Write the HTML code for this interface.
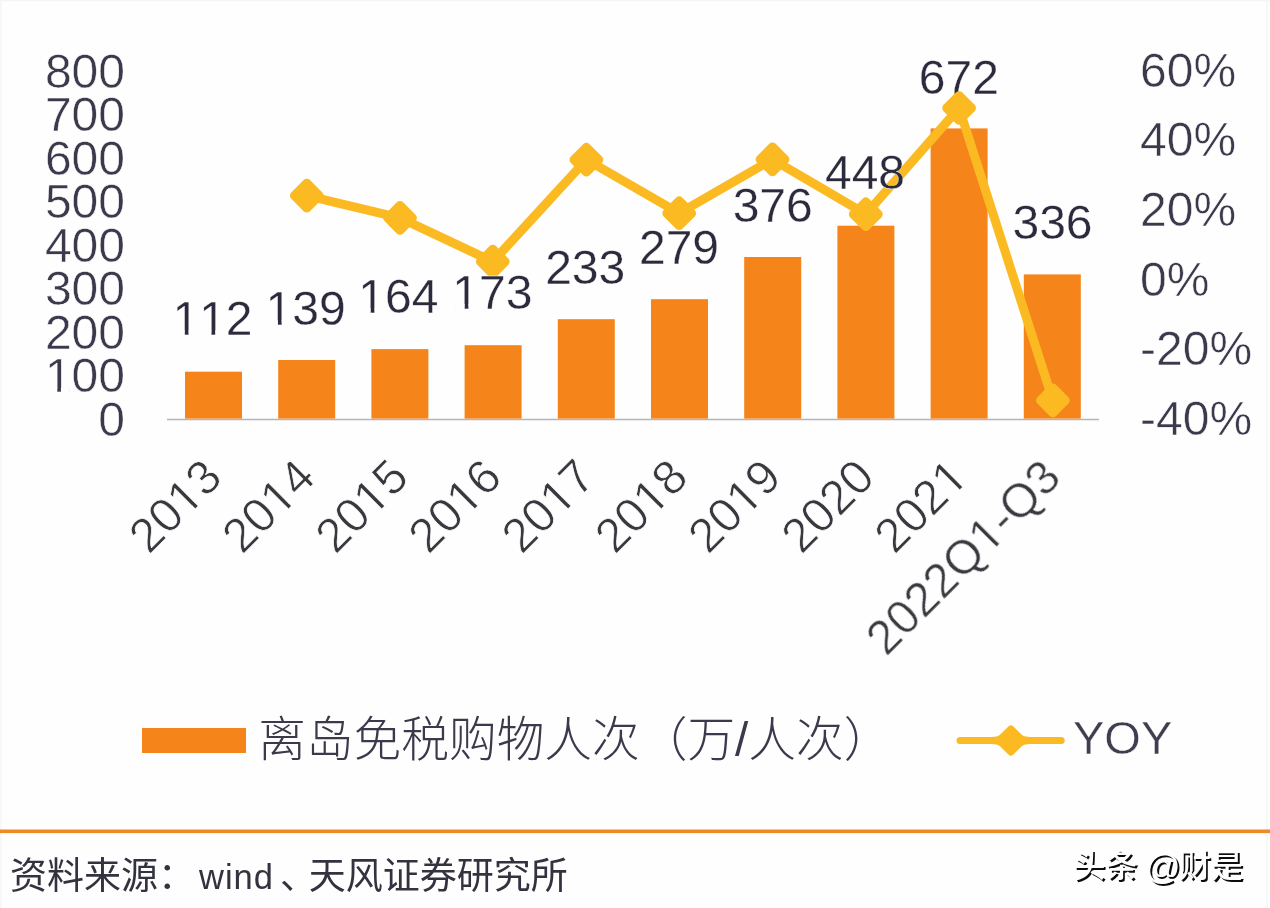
<!DOCTYPE html>
<html lang="zh-CN"><head><meta charset="utf-8"><title>离岛免税购物人次</title>
<style>
html,body{margin:0;padding:0;background:#fefefe;}
body{width:1270px;height:908px;overflow:hidden;position:relative;font-family:"Liberation Sans","Noto Sans CJK SC",sans-serif;}
svg{position:absolute;left:0;top:0;display:block}
.ax,.xl,.dl,.yy{stroke:#fefefe;stroke-width:0.5px;stroke-linejoin:round;font-kerning:none}
.xl{stroke-width:0.7px}
.dl{stroke-width:0.3px}
.yy{stroke-width:0.4px}
.ax{font-family:"Liberation Sans",sans-serif;font-size:48px;fill:#3a3a4c;}
.xl{font-family:"Liberation Sans",sans-serif;font-size:48px;fill:#38383f;}
.dl{font-family:"Liberation Sans",sans-serif;font-size:48px;fill:#2b2b3d;}
.lg{font-family:"Liberation Sans","Noto Sans CJK SC",sans-serif;font-size:47.7px;font-weight:300;fill:#3a3a4c;}
.yy{font-family:"Liberation Sans",sans-serif;font-size:47px;fill:#3e3e50;}
.src{font-family:"Liberation Sans","Noto Sans CJK SC",sans-serif;font-size:37px;font-weight:400;fill:#33333f;}
.wm{font-family:"Liberation Sans","Noto Sans CJK SC",sans-serif;font-size:32.2px;font-weight:500;fill:#fefefe;}
.wms{font-family:"Liberation Sans","Noto Sans CJK SC",sans-serif;font-size:32.2px;font-weight:500;fill:#0c0c0c;}
</style></head><body>
<svg width="1270" height="908" viewBox="0 0 1270 908">
<defs><clipPath id="k1" clipPathUnits="userSpaceOnUse"><path clip-rule="evenodd" d="M-3000,-3000H5000V5000H-3000ZM47.79,387.51H57.29V394.40H47.79ZM60.92,387.51H69.87V394.40H60.92Z"/></clipPath><clipPath id="k2" clipPathUnits="userSpaceOnUse"><path clip-rule="evenodd" d="M-3000,-3000H5000V5000H-3000ZM175.34,330.31H184.83V337.20H175.34ZM188.47,330.31H197.42V337.20H188.47ZM202.03,330.31H211.52V337.20H202.03ZM215.16,330.31H224.11V337.20H215.16Z"/></clipPath><clipPath id="k3" clipPathUnits="userSpaceOnUse"><path clip-rule="evenodd" d="M-3000,-3000H5000V5000H-3000ZM268.44,320.31H277.93V327.20H268.44ZM281.57,320.31H290.52V327.20H281.57Z"/></clipPath><clipPath id="k4" clipPathUnits="userSpaceOnUse"><path clip-rule="evenodd" d="M-3000,-3000H5000V5000H-3000ZM361.24,308.31H370.73V315.20H361.24ZM374.37,308.31H383.32V315.20H374.37Z"/></clipPath><clipPath id="k5" clipPathUnits="userSpaceOnUse"><path clip-rule="evenodd" d="M-3000,-3000H5000V5000H-3000ZM455.24,304.11H464.73V311.00H455.24ZM468.37,304.11H477.32V311.00H468.37Z"/></clipPath><clipPath id="k6" clipPathUnits="userSpaceOnUse"><path clip-rule="evenodd" d="M-3000,-3000H5000V5000H-3000ZM173.99,474.81H183.58V481.70H173.99ZM187.02,474.81H196.07V481.70H187.02Z"/></clipPath><clipPath id="k7" clipPathUnits="userSpaceOnUse"><path clip-rule="evenodd" d="M-3000,-3000H5000V5000H-3000ZM267.19,474.81H276.78V481.70H267.19ZM280.22,474.81H289.27V481.70H280.22Z"/></clipPath><clipPath id="k8" clipPathUnits="userSpaceOnUse"><path clip-rule="evenodd" d="M-3000,-3000H5000V5000H-3000ZM360.39,474.81H369.98V481.70H360.39ZM373.42,474.81H382.47V481.70H373.42Z"/></clipPath><clipPath id="k9" clipPathUnits="userSpaceOnUse"><path clip-rule="evenodd" d="M-3000,-3000H5000V5000H-3000ZM453.59,474.81H463.18V481.70H453.59ZM466.62,474.81H475.67V481.70H466.62Z"/></clipPath><clipPath id="k10" clipPathUnits="userSpaceOnUse"><path clip-rule="evenodd" d="M-3000,-3000H5000V5000H-3000ZM546.79,474.81H556.38V481.70H546.79ZM559.82,474.81H568.87V481.70H559.82Z"/></clipPath><clipPath id="k11" clipPathUnits="userSpaceOnUse"><path clip-rule="evenodd" d="M-3000,-3000H5000V5000H-3000ZM639.99,474.81H649.58V481.70H639.99ZM653.02,474.81H662.07V481.70H653.02Z"/></clipPath><clipPath id="k12" clipPathUnits="userSpaceOnUse"><path clip-rule="evenodd" d="M-3000,-3000H5000V5000H-3000ZM733.19,474.81H742.78V481.70H733.19ZM746.22,474.81H755.27V481.70H746.22Z"/></clipPath><clipPath id="k13" clipPathUnits="userSpaceOnUse"><path clip-rule="evenodd" d="M-3000,-3000H5000V5000H-3000ZM946.28,474.81H955.88V481.70H946.28ZM959.32,474.81H968.36V481.70H959.32Z"/></clipPath><clipPath id="k14" clipPathUnits="userSpaceOnUse"><path clip-rule="evenodd" d="M-3000,-3000H5000V5000H-3000ZM959.47,474.81H969.06V481.70H959.47ZM972.50,474.81H981.55V481.70H972.50Z"/></clipPath></defs>
<rect x="0" y="0" width="1270" height="908" fill="#fefefe"/>
<rect x="0" y="0" width="1270" height="1.5" fill="#f5f5f7"/><rect x="0" y="0" width="1.5" height="908" fill="#f6f6f8"/><rect x="1266.5" y="0" width="1.5" height="908" fill="#f5f6f5"/>
<g style="filter:blur(0.4px)">

<text class="ax" x="98.30" y="435.90">0</text>
<text class="ax" x="44.91" y="392.40" clip-path="url(#k1)">100</text>
<text class="ax" x="44.91" y="348.90">200</text>
<text class="ax" x="44.91" y="305.40">300</text>
<text class="ax" x="44.91" y="261.90">400</text>
<text class="ax" x="44.91" y="218.40">500</text>
<text class="ax" x="44.91" y="174.90">600</text>
<text class="ax" x="44.91" y="131.40">700</text>
<text class="ax" x="44.91" y="87.90">800</text>
<text class="ax" x="1140.00" y="86.80">60%</text>
<text class="ax" x="1140.00" y="156.40">40%</text>
<text class="ax" x="1140.00" y="226.00">20%</text>
<text class="ax" x="1140.00" y="295.60">0%</text>
<text class="ax" x="1140.00" y="365.20">-20%</text>
<text class="ax" x="1140.00" y="434.80">-40%</text>
<line x1="167" y1="419.4" x2="1099" y2="419.4" stroke="#b4b4bb" stroke-width="1.5"/>
<rect x="185.0" y="371.7" width="57.0" height="46.9" fill="#f5841a"/>
<rect x="278.2" y="360.0" width="57.0" height="58.6" fill="#f5841a"/>
<rect x="371.4" y="349.1" width="57.0" height="69.5" fill="#f5841a"/>
<rect x="464.6" y="345.2" width="57.0" height="73.4" fill="#f5841a"/>
<rect x="557.8" y="319.2" width="57.0" height="99.4" fill="#f5841a"/>
<rect x="651.0" y="299.2" width="57.0" height="119.4" fill="#f5841a"/>
<rect x="744.2" y="257.0" width="57.0" height="161.6" fill="#f5841a"/>
<rect x="837.4" y="225.7" width="57.0" height="192.9" fill="#f5841a"/>
<rect x="930.6" y="128.4" width="57.0" height="290.2" fill="#f5841a"/>
<rect x="1023.8" y="274.4" width="57.0" height="144.2" fill="#f5841a"/>
<text class="dl" x="918.86" y="94.20">672</text>
<polyline fill="none" stroke="#fbba22" stroke-width="9" stroke-linejoin="round" stroke-linecap="round" points="306.8,195.6 400.0,217.9 492.8,261.6 586.4,159.7 679.2,213.2 772.5,159.4 865.8,214.2 959.1,108.0 1052.9,400.4"/>
<rect x="293.55" y="182.35" width="26.5" height="26.5" rx="4.5" ry="4.5" fill="#fbba22" transform="rotate(45 306.8 195.6)"/>
<rect x="386.75" y="204.65" width="26.5" height="26.5" rx="4.5" ry="4.5" fill="#fbba22" transform="rotate(45 400.0 217.9)"/>
<rect x="479.55" y="248.35" width="26.5" height="26.5" rx="4.5" ry="4.5" fill="#fbba22" transform="rotate(45 492.8 261.6)"/>
<rect x="573.15" y="146.45" width="26.5" height="26.5" rx="4.5" ry="4.5" fill="#fbba22" transform="rotate(45 586.4 159.7)"/>
<rect x="665.95" y="199.95" width="26.5" height="26.5" rx="4.5" ry="4.5" fill="#fbba22" transform="rotate(45 679.2 213.2)"/>
<rect x="759.25" y="146.15" width="26.5" height="26.5" rx="4.5" ry="4.5" fill="#fbba22" transform="rotate(45 772.5 159.4)"/>
<rect x="852.55" y="200.95" width="26.5" height="26.5" rx="4.5" ry="4.5" fill="#fbba22" transform="rotate(45 865.8 214.2)"/>
<rect x="945.85" y="94.75" width="26.5" height="26.5" rx="4.5" ry="4.5" fill="#fbba22" transform="rotate(45 959.1 108.0)"/>
<rect x="1039.65" y="387.15" width="26.5" height="26.5" rx="4.5" ry="4.5" fill="#fbba22" transform="rotate(45 1052.9 400.4)"/>
<text class="dl" x="172.46" y="335.20" clip-path="url(#k2)">112</text>
<text class="dl" x="265.56" y="325.20" clip-path="url(#k3)">139</text>
<text class="dl" x="358.36" y="313.20" clip-path="url(#k4)">164</text>
<text class="dl" x="452.36" y="309.00" clip-path="url(#k5)">173</text>
<text class="dl" x="545.16" y="284.20">233</text>
<text class="dl" x="638.96" y="264.00">279</text>
<text class="dl" x="732.66" y="221.50">376</text>
<text class="dl" x="824.96" y="189.20">448</text>
<text class="dl" x="1012.46" y="239.20">336</text>
<text class="xl" x="117.72" y="479.70" clip-path="url(#k6)" transform="rotate(-45 224.5 479.7)">2013</text>
<text class="xl" x="210.92" y="479.70" clip-path="url(#k7)" transform="rotate(-45 317.7 479.7)">2014</text>
<text class="xl" x="304.12" y="479.70" clip-path="url(#k8)" transform="rotate(-45 410.9 479.7)">2015</text>
<text class="xl" x="397.32" y="479.70" clip-path="url(#k9)" transform="rotate(-45 504.1 479.7)">2016</text>
<text class="xl" x="490.52" y="479.70" clip-path="url(#k10)" transform="rotate(-45 597.3 479.7)">2017</text>
<text class="xl" x="583.72" y="479.70" clip-path="url(#k11)" transform="rotate(-45 690.5 479.7)">2018</text>
<text class="xl" x="676.92" y="479.70" clip-path="url(#k12)" transform="rotate(-45 783.7 479.7)">2019</text>
<text class="xl" x="770.12" y="479.70" transform="rotate(-45 876.9 479.7)">2020</text>
<text class="xl" x="863.32" y="479.70" clip-path="url(#k13)" transform="rotate(-45 970.1 479.7)">2021</text>
<text class="xl" x="812.47" y="479.70" clip-path="url(#k14)" transform="rotate(-45 1063.3 479.7)">2022Q1-Q3</text>
<rect x="142" y="728" width="104" height="25" fill="#f5841a"/>
<text class="lg" x="258.2" y="756">离岛免税购物人次（万/人次）</text>
<path fill="#fbba22" d="M960,737 L991,737 Q997.5,737 1000,734.8 L1008.4,726.4 Q1010.9,723.9 1013.4,726.4 L1021.8,734.8 Q1024.3,737 1030.8,737 L1061.2,737 A3.5,3.5 0 0 1 1061.2,744 L1030.8,744 Q1024.3,744 1021.8,746.2 L1013.4,754.6 Q1010.9,757.1 1008.4,754.6 L1000,746.2 Q997.5,744 991,744 L960,744 A3.5,3.5 0 0 1 960,737 Z"/>
<text class="yy" x="1073" y="754">YOY</text>
<rect x="0" y="829.5" width="1270" height="3.6" fill="#ee8a22"/>
<text class="src" x="10" y="888.5">资料来源：<tspan dx="4" style="font-size:34.5px;letter-spacing:1px">wind</tspan><tspan dx="6">、</tspan><tspan dx="-8.3">天风证券研究所</tspan></text>
<text class="wms" y="879.0"><tspan x="1075.1">头条</tspan> <tspan x="1146.9" dy="1.5" style="font-size:35px">@</tspan><tspan x="1180.5" dy="-1.5">财是</tspan></text>
<text class="wm" y="877.2"><tspan x="1073.3">头条</tspan> <tspan x="1145.1" dy="1.5" style="font-size:35px">@</tspan><tspan x="1178.7" dy="-1.5">财是</tspan></text>
</g></svg></body></html>
